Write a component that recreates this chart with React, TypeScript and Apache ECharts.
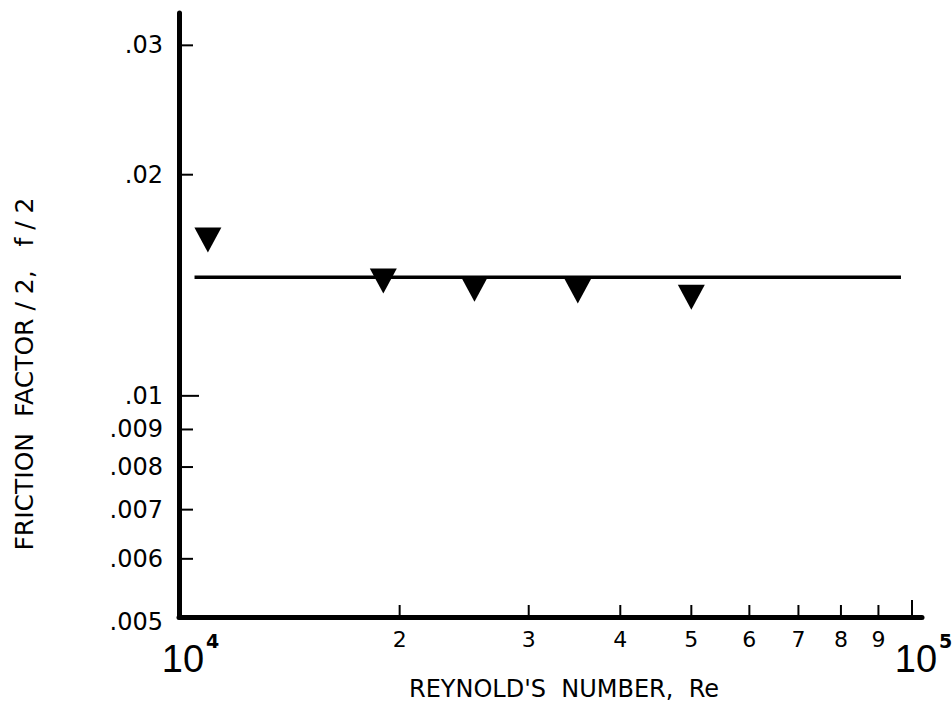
import React, { useEffect, useRef } from "react";
import * as echarts from "echarts";

// ---- data ----
const reynolds = [10950, 19000, 25300, 35000, 50000];
const frictionHalf = [0.0163, 0.01433, 0.01397, 0.01389, 0.01362];
const fitRe = [10500, 96600];
const fitF = [0.0145, 0.0145];

const xTickValues = [20000, 30000, 40000, 50000, 60000, 70000, 80000, 90000, 100000];
const xTickLabels = ["2", "3", "4", "5", "6", "7", "8", "9", ""];
const xDecadeValues = [10000, 100000];
const xDecadeExponents = ["4", "5"];
const yTickValues = [0.03, 0.02, 0.01, 0.009, 0.008, 0.007, 0.006, 0.005];
const yTickLabels = [".03", ".02", ".01", ".009", ".008", ".007", ".006", ".005"];

const X_MIN = 10000;
const X_MAX = 103200;
const Y_MIN = 0.005;
const Y_MAX = 0.0332;

const FONT = '"DejaVu Sans", "Liberation Sans", sans-serif';
const FONT_NARROW = '"Liberation Sans", Arial, sans-serif';

export default function App() {
  const ref = useRef<HTMLDivElement>(null);

  useEffect(() => {
    if (!ref.current) return;
    const chart = echarts.init(ref.current, undefined, { renderer: "svg" });

    const option: any = {
      animation: false,
      backgroundColor: "#fff",
      grid: { left: 179, right: 30, top: 13, bottom: 91, containLabel: false },
      xAxis: {
        type: "log",
        logBase: 10,
        min: X_MIN,
        max: X_MAX,
        axisLine: { show: true, lineStyle: { color: "#000", width: 5 } },
        axisTick: { show: false },
        axisLabel: { show: false },
        splitLine: { show: false },
      },
      yAxis: {
        type: "log",
        logBase: 10,
        min: Y_MIN,
        max: Y_MAX,
        axisLine: { show: true, lineStyle: { color: "#000", width: 5 } },
        axisTick: { show: false },
        axisLabel: { show: false },
        splitLine: { show: false },
      },
      series: [
        {
          type: "line",
          data: fitRe.map((x, i) => [x, fitF[i]]),
          symbol: "none",
          lineStyle: { color: "#000", width: 3.5 },
          z: 3,
        },
        {
          type: "scatter",
          data: reynolds.map((x, i) => [x, frictionHalf[i]]),
          symbol: "triangle",
          symbolRotate: 180,
          symbolSize: [27, 25],
          itemStyle: { color: "#000", opacity: 1 },
          z: 4,
        },
        {
          type: "custom",
          clip: false,
          data: xTickValues.map((v) => [v, Y_MIN]),
          renderItem: (params: any, api: any) => {
            const v = api.value(0);
            const p = api.coord([v, Y_MIN]);
            const len = v >= 100000 ? 17 : 12;
            const children: any[] = [
              {
                type: "line",
                shape: { x1: p[0], y1: p[1], x2: p[0], y2: p[1] - len },
                style: { stroke: "#000", lineWidth: 2 },
              },
            ];
            const label = xTickLabels[params.dataIndex];
            if (label) {
              children.push({
                type: "text",
                x: p[0],
                y: p[1] + 22,
                style: {
                  text: label,
                  fill: "#000",
                  font: `22px ${FONT}`,
                  align: "center",
                  verticalAlign: "middle",
                },
              });
            }
            return { type: "group", children };
          },
          z: 5,
        },
        {
          type: "custom",
          clip: false,
          data: xDecadeValues.map((v) => [v, Y_MIN]),
          renderItem: (params: any, api: any) => {
            const v = api.value(0);
            const p = api.coord([v, Y_MIN]);
            return {
              type: "group",
              children: [
                {
                  type: "text",
                  x: p[0] + 4,
                  y: p[1] + 42,
                  style: {
                    text: "10",
                    fill: "#000",
                    font: `38px ${FONT_NARROW}`,
                    align: "center",
                    verticalAlign: "middle",
                  },
                },
                {
                  type: "text",
                  x: p[0] + 27,
                  y: p[1] + 24,
                  style: {
                    text: xDecadeExponents[params.dataIndex],
                    fill: "#000",
                    font: `bold 19px ${FONT}`,
                    align: "left",
                    verticalAlign: "middle",
                  },
                },
              ],
            };
          },
          z: 5,
        },
        {
          type: "custom",
          clip: false,
          data: yTickValues.map((v) => [X_MIN, v]),
          renderItem: (params: any, api: any) => {
            const v = api.value(1);
            const p = api.coord([X_MIN, v]);
            const children: any[] = [];
            if (v > Y_MIN) {
              const len = Math.abs(v - 0.01) < 1e-9 ? 20 : 14;
              children.push({
                type: "line",
                shape: { x1: p[0], y1: p[1], x2: p[0] + len, y2: p[1] },
                style: { stroke: "#000", lineWidth: 2 },
              });
            }
            children.push({
              type: "text",
              x: p[0] - 16,
              y: v === Y_MIN ? p[1] + 5 : p[1],
              style: {
                text: yTickLabels[params.dataIndex],
                fill: "#000",
                font: `24px ${FONT}`,
                align: "right",
                verticalAlign: "middle",
              },
            });
            return { type: "group", children };
          },
          z: 5,
        },
      ],
      graphic: [
        {
          type: "text",
          x: 564,
          y: 689,
          style: {
            text: "REYNOLD'S  NUMBER,  Re",
            fill: "#000",
            font: `24px ${FONT}`,
            align: "center",
            verticalAlign: "middle",
          },
        },
        {
          type: "text",
          x: 24,
          y: 374,
          rotation: Math.PI / 2,
          style: {
            text: "FRICTION  FACTOR / 2,   f / 2",
            fill: "#000",
            font: `25px ${FONT}`,
            align: "center",
            verticalAlign: "middle",
          },
        },
      ],
    };

    chart.setOption(option);
    return () => chart.dispose();
  }, []);

  return (
    <div
      ref={ref}
      style={{ position: "fixed", left: 0, top: 0, width: 952, height: 708, background: "#fff" }}
    />
  );
}
